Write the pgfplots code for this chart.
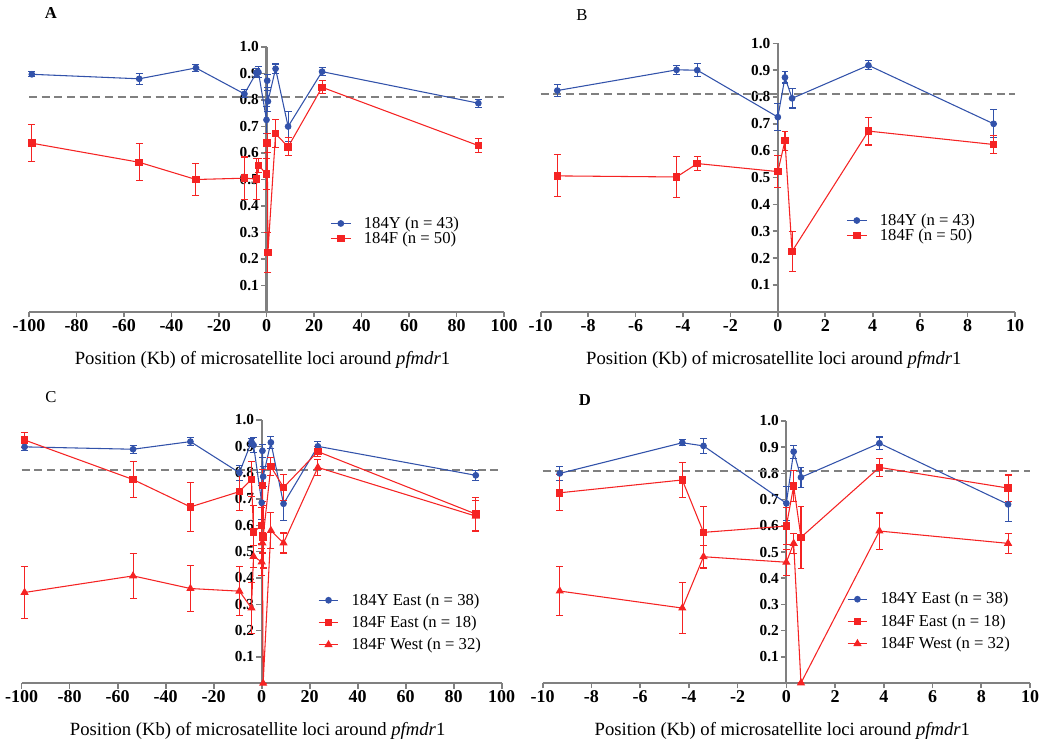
\documentclass[border=0pt]{standalone}
\usepackage{fontspec}
\setmainfont{Liberation Serif}
\usepackage{pgfplots}
\pgfplotsset{compat=1.18}
\definecolor{myblue}{RGB}{50,82,170}
\definecolor{myred}{RGB}{245,35,35}
\definecolor{axgray}{RGB}{128,128,128}

\pgfplotsset{
  panel/.style={scale only axis, clip=false, ymin=0, ymax=1,
    axis x line=bottom, axis y line=center,
    axis line style={draw=axgray, line width=1.6pt, -},
    tick style={draw=axgray, line width=1.2pt},
    tick align=outside, major tick length=4pt,
    ytick={0.1,0.2,0.3,0.4,0.5,0.6,0.7,0.8,0.9,1.0},
    yticklabels={0.1,0.2,0.3,0.4,0.5,0.6,0.7,0.8,0.9,1.0},
    yticklabel style={font=\bfseries\fontsize{11.5}{11.5}\selectfont, inner sep=1.5pt},
    xticklabel style={font=\bfseries\fontsize{13.5}{13.5}\selectfont, inner sep=1.5pt},
    xlabel={Position (Kb) of microsatellite loci around \textit{pfmdr}1},
    xlabel style={font=\fontsize{14}{14}\selectfont, at={(axis description cs:0.5,0)}, anchor=center, yshift=-36pt, xshift=-3pt},
    legend cell align=left,
    legend style={draw=none, fill=none, font=\fontsize{12.5}{13}\selectfont, anchor=west, inner sep=0pt,
      nodes={inner sep=0.5pt}, /tikz/every odd column/.append style={column sep=9pt}},
    legend image code/.code={\draw[mark repeat=2,mark phase=2] plot coordinates {(0cm,0cm) (0.26cm,0cm) (0.52cm,0cm)};},
  },
  wide/.style={xmin=-100, xmax=100, xtick={-100,-80,-60,-40,-20,0,20,40,60,80,100}, xticklabels={-100,-80,-60,-40,-20,0,20,40,60,80,100}},
  narrow/.style={xmin=-10, xmax=10, xtick={-10,-8,-6,-4,-2,0,2,4,6,8,10}, xticklabels={-10,-8,-6,-4,-2,0,2,4,6,8,10}},
  thr/.style={forget plot, axgray, line width=1.6pt, dash pattern=on 6pt off 3.5pt},
  sblue/.style={color=myblue, line width=0.8pt, mark=*, mark size=2.1pt, mark options={solid, fill=myblue},
    error bars/.cd, y dir=both, y explicit, error bar style={line width=0.8pt, myblue},
    error mark options={rotate=90, mark size=2.6pt, line width=0.8pt, myblue}},
  sred/.style={color=myred, line width=0.8pt, mark=square*, mark size=2.4pt, mark options={solid, fill=myred},
    error bars/.cd, y dir=both, y explicit, error bar style={line width=0.8pt, myred},
    error mark options={rotate=90, mark size=2.6pt, line width=0.8pt, myred}},
  stri/.style={color=myred, line width=0.8pt, mark=triangle*, mark size=2.8pt, mark options={solid, fill=myred},
    error bars/.cd, y dir=both, y explicit, error bar style={line width=0.8pt, myred},
    error mark options={rotate=90, mark size=2.6pt, line width=0.8pt, myred}},
}

\begin{document}
\begin{tikzpicture}
\useasboundingbox (0,0) rectangle (1050*0.75pt,-747*0.75pt);

% ---------- A ----------
\begin{axis}[panel, wide, at={(29*0.75pt,-312*0.75pt)}, anchor=south west,
  width=475*0.75pt, height=265*0.75pt,
  legend style={at={(0.634,0.306)}}]
\addplot[thr] coordinates {(-100,0.81) (100,0.81)};
\addplot[sblue] coordinates {
(-98.8,0.897) +- (0,0.01)
(-53.6,0.880) +- (0,0.02)
(-29.7,0.921) +- (0,0.012)
(-9.3,0.823) +- (0,0.015)
(-4.27,0.903) +- (0,0.015)
(-3.4,0.905) +- (0,0.02)
(0,0.725) +- (0,0.05)
(0.3,0.873) +- (0,0.025)
(0.6,0.795) +- (0,0.04)
(3.82,0.918) +- (0,0.018)
(9.1,0.70) +- (0,0.055)
(23.4,0.907) +- (0,0.015)
(89.2,0.788) +- (0,0.015)
};
\addplot[sred] coordinates {
(-98.8,0.637) +- (0,0.07)
(-53.6,0.565) +- (0,0.07)
(-29.7,0.50) +- (0,0.06)
(-9.3,0.505) +- (0,0.08)
(-4.27,0.502) +- (0,0.076)
(-3.4,0.553) +- (0,0.027)
(0,0.521) +- (0,0.06)
(0.3,0.637) +- (0,0.036)
(0.6,0.225) +- (0,0.075)
(3.82,0.673) +- (0,0.052)
(9.1,0.623) +- (0,0.034)
(23.4,0.848) +- (0,0.025)
(89.2,0.628) +- (0,0.025)
};
\legend{184Y (n = 43), 184F (n = 50)}
\end{axis}

% ---------- B ----------
\begin{axis}[panel, narrow, at={(540.7*0.75pt,-311.7*0.75pt)}, anchor=south west,
  width=474.3*0.75pt, height=268.4*0.75pt,
  legend style={at={(0.644,0.312)}}]
\addplot[thr] coordinates {(-10,0.81) (10,0.81)};
\addplot[sblue] coordinates {
(-9.3,0.824) +- (0,0.023)
(-4.27,0.901) +- (0,0.017)
(-3.4,0.90) +- (0,0.024)
(0,0.725) +- (0,0.05)
(0.3,0.873) +- (0,0.021)
(0.6,0.795) +- (0,0.036)
(3.82,0.918) +- (0,0.017)
(9.1,0.70) +- (0,0.052)
};
\addplot[sred] coordinates {
(-9.3,0.506) +- (0,0.078)
(-4.27,0.502) +- (0,0.076)
(-3.4,0.552) +- (0,0.027)
(0,0.522) +- (0,0.06)
(0.3,0.637) +- (0,0.036)
(0.6,0.225) +- (0,0.075)
(3.82,0.673) +- (0,0.052)
(9.1,0.623) +- (0,0.034)
};
\legend{184Y (n = 43), 184F (n = 50)}
\end{axis}

% ---------- C ----------
\begin{axis}[panel, wide, at={(21.7*0.75pt,-683.3*0.75pt)}, anchor=south west,
  width=480*0.75pt, height=263.3*0.75pt,
  legend style={at={(0.617,0.231)}, row sep=5.5pt}]
\addplot[thr] coordinates {(-100,0.81) (100,0.81)};
\addplot[sblue] coordinates {
(-98.8,0.898) +- (0,0.015)
(-53.6,0.889) +- (0,0.015)
(-29.7,0.918) +- (0,0.015)
(-9.3,0.80) +- (0,0.028)
(-4.27,0.917) +- (0,0.012)
(-3.4,0.905) +- (0,0.03)
(0,0.686) +- (0,0.065)
(0.3,0.883) +- (0,0.025)
(0.6,0.785) +- (0,0.037)
(3.82,0.915) +- (0,0.024)
(9.1,0.682) +- (0,0.064)
(23.4,0.90) +- (0,0.02)
(89.2,0.79) +- (0,0.02)
};
\addplot[sred] coordinates {
(-98.8,0.924) +- (0,0.03)
(-53.6,0.774) +- (0,0.068)
(-29.7,0.670) +- (0,0.094)
(-9.3,0.728) +- (0,0.072)
(-4.27,0.775) +- (0,0.067)
(-3.4,0.575) +- (0,0.10)
(0,0.599) +- (0,0.07)
(0.3,0.752) +- (0,0.06)
(0.6,0.556) +- (0,0.118)
(3.82,0.823) +- (0,0.035)
(9.1,0.744) +- (0,0.05)
(23.4,0.88) +- (0,0.02)
(89.2,0.643) +- (0,0.063)
};
\addplot[stri] coordinates {
(-98.8,0.345) +- (0,0.10)
(-53.6,0.408) +- (0,0.086)
(-29.7,0.36) +- (0,0.087)
(-9.3,0.35) +- (0,0.094)
(-4.27,0.286) +- (0,0.096)
(-3.4,0.482) +- (0,0.043)
(0,0.461) +- (0,0.05)
(0.3,0.533) +- (0,0.038)
(0.6,0.0) +- (0,0)
(3.82,0.580) +- (0,0.069)
(9.1,0.533) +- (0,0.038)
(23.4,0.82) +- (0,0.03)
(89.2,0.635) +- (0,0.06)
};
\legend{184Y East (n = 38), 184F East (n = 18), 184F West (n = 32)}
\end{axis}

% ---------- D ----------
\begin{axis}[panel, narrow, at={(542.7*0.75pt,-683*0.75pt)}, anchor=south west,
  width=487.3*0.75pt, height=262*0.75pt,
  legend style={at={(0.624,0.235)}, row sep=5.5pt}]
\addplot[thr] coordinates {(-10,0.81) (10,0.81)};
\addplot[sblue] coordinates {
(-9.3,0.80) +- (0,0.028)
(-4.27,0.917) +- (0,0.012)
(-3.4,0.905) +- (0,0.03)
(0,0.686) +- (0,0.065)
(0.3,0.883) +- (0,0.025)
(0.6,0.785) +- (0,0.037)
(3.82,0.915) +- (0,0.024)
(9.1,0.682) +- (0,0.064)
};
\addplot[sred] coordinates {
(-9.3,0.726) +- (0,0.069)
(-4.27,0.775) +- (0,0.067)
(-3.4,0.575) +- (0,0.10)
(0,0.599) +- (0,0.07)
(0.3,0.752) +- (0,0.06)
(0.6,0.556) +- (0,0.118)
(3.82,0.823) +- (0,0.035)
(9.1,0.744) +- (0,0.05)
};
\addplot[stri] coordinates {
(-9.3,0.351) +- (0,0.094)
(-4.27,0.286) +- (0,0.096)
(-3.4,0.482) +- (0,0.043)
(0,0.461) +- (0,0.05)
(0.3,0.533) +- (0,0.038)
(0.6,0.0) +- (0,0)
(3.82,0.580) +- (0,0.069)
(9.1,0.533) +- (0,0.038)
};
\legend{184Y East (n = 38), 184F East (n = 18), 184F West (n = 32)}
\end{axis}

% panel letters
\node[font=\bfseries\fontsize{12.5}{12.5}\selectfont] at (51*0.75pt,-13*0.75pt) {A};
\node[font=\fontsize{12.5}{12.5}\selectfont] at (582*0.75pt,-15*0.75pt) {B};
\node[font=\fontsize{12.5}{12.5}\selectfont] at (51*0.75pt,-397*0.75pt) {C};
\node[font=\bfseries\fontsize{12.5}{12.5}\selectfont] at (585*0.75pt,-400*0.75pt) {D};
\end{tikzpicture}
\end{document}
